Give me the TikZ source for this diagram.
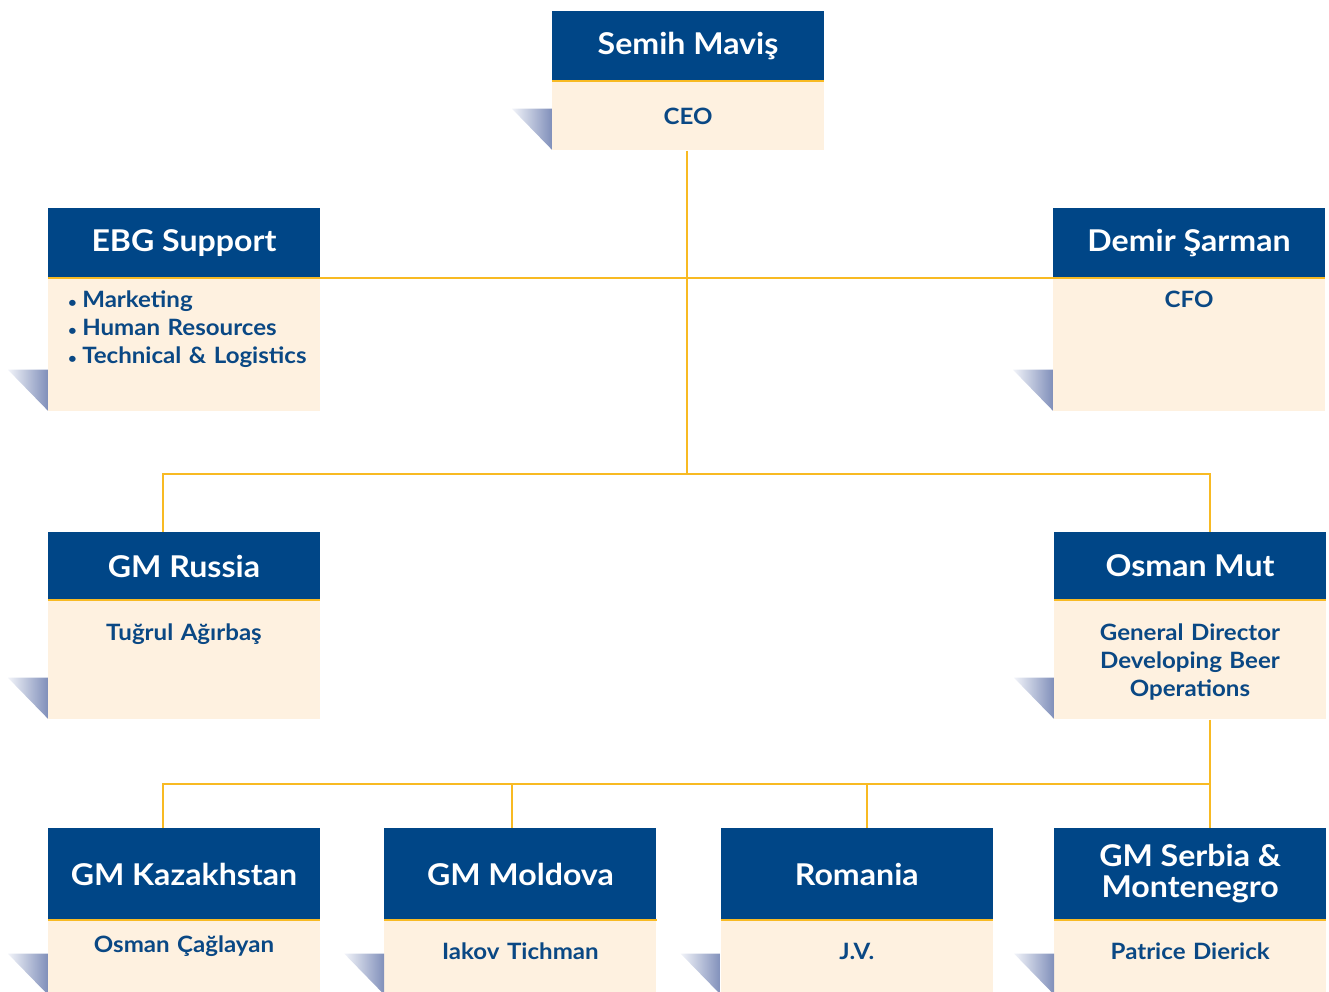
\documentclass[tikz,border=0pt]{standalone}
\usepackage{fontspec}
\setmainfont{Lato}[FakeStretch=1.07]
\usetikzlibrary{positioning, calc}
\definecolor{ebgblue}{RGB}{0,70,135}
\definecolor{ebgcream}{RGB}{254,241,224}
\definecolor{ebgyellow}{RGB}{248,186,35}
\definecolor{ebgtext}{RGB}{10,72,132}
\definecolor{wedgedark}{RGB}{128,143,186}
\definecolor{wedgelight}{RGB}{242,244,249}
\newcommand{\bul}{{\fontsize{14}{14}\selectfont•}\hspace{0.25em}}
\tikzset{head/.style={fill=ebgblue, text=white, minimum width=272pt, inner sep=0pt, align=center, font=\fontsize{30}{31}\selectfont\bfseries}}
\tikzset{body/.style={fill=ebgcream, text=ebgtext, text width=272pt, inner sep=0pt, align=center, font=\fontsize{22.5}{28}\selectfont\bfseries}}
\tikzset{link/.style={draw=ebgyellow, line width=2pt}}
\tikzset{rule/.style={draw=ebgyellow, line width=2.5pt}}
\tikzset{wedge/.style={left color=wedgelight, right color=wedgedark}}

\begin{document}
\begin{tikzpicture}[x=1pt, y=-1pt]
  \useasboundingbox (0,0) rectangle (1329,991);

  \node[head, minimum height=70pt] (ceo) at (688,46) {Semih Maviş};
  \node[body, below=0pt of ceo, text height=43pt, text depth=26pt] (ceo-b) {CEO};

  \node[head, minimum height=70pt] (ebg) at (184,243) {EBG Support};
  \node[body, below=0pt of ebg, align=left, text width=252pt, inner xsep=10pt,
        text height=29pt, text depth=104pt] (ebg-b)
        {\hspace{10pt}\bul Marketing\\\hspace{10pt}\bul Human Resources\\\hspace{10pt}\bul Technical \& Logistics};

  \node[head, minimum height=70pt] (cfo) at (1189,243) {Demir Şarman};
  \node[body, below=0pt of cfo, text height=29pt, text depth=104pt] (cfo-b) {CFO};

  \node[head, minimum height=68pt] (ru) at (184,566) {GM Russia};
  \node[body, below=0pt of ru, text height=40pt, text depth=79pt] (ru-b) {Tuğrul Ağırbaş};

  \node[head, minimum height=68pt] (mut) at (1190,566) {Osman Mut};
  \node[body, below=0pt of mut, text height=40pt, text depth=79pt] (mut-b)
        {General Director\\Developing Beer\\Operations};

  % bottom row
  \node[head, minimum height=92pt] (kaz) at (184,874) {GM Kazakhstan};
  \node[head, minimum height=92pt, right=64pt of kaz] (mol) {GM Moldova};
  \node[head, minimum height=92pt, right=64pt of mol] (rom) {Romania};
  \node[head, minimum height=92pt, right=61pt of rom] (srb) {GM Serbia \&\\Montenegro};
  \node[body, below=0pt of kaz, text height=32pt, text depth=43pt] (kaz-b) {Osman Çağlayan};
  \node[body, below=0pt of mol, text height=39pt, text depth=36pt] (mol-b) {Iakov Tichman};
  \node[body, below=0pt of rom, text height=39pt, text depth=36pt] (rom-b) {J.V.};
  \node[body, below=0pt of srb, text height=39pt, text depth=36pt] (srb-b) {Patrice Dierick};

  \foreach \n in {ceo,ebg,cfo,ru,mut,kaz,mol,rom,srb} {
    \draw[rule] (\n.south west) -- (\n.south east);
    \shade[wedge] ($(\n-b.south west)+(-40,-42)$) -- ($(\n-b.south west)+(0,-42)$)
      -- ($(\n-b.south west)+(0,-1)$) -- cycle;
  }

  \coordinate (split) at ($(ceo-b.south)+(-1,323)$);
  \coordinate (split2) at ($(mut-b.south)+(20,64)$);

  \draw[link] (ebg.south east) -- (cfo.south west);
  \draw[link] (ceo-b.south -| split) -- (split);
  \draw[link] ([xshift=-21pt]ru.north) |- (split) -| ([xshift=20pt]mut.north);
  \draw[link] (mut-b.south -| split2) -- (split2);
  \draw[link] ([xshift=-21pt]kaz.north) |- (split2) -- (srb.north -| split2);
  \draw[link] ([xshift=-8pt]mol.north) -- ([xshift=-8pt]mol.north |- split2);
  \draw[link] ([xshift=10pt]rom.north) -- ([xshift=10pt]rom.north |- split2);
\end{tikzpicture}
\end{document}
